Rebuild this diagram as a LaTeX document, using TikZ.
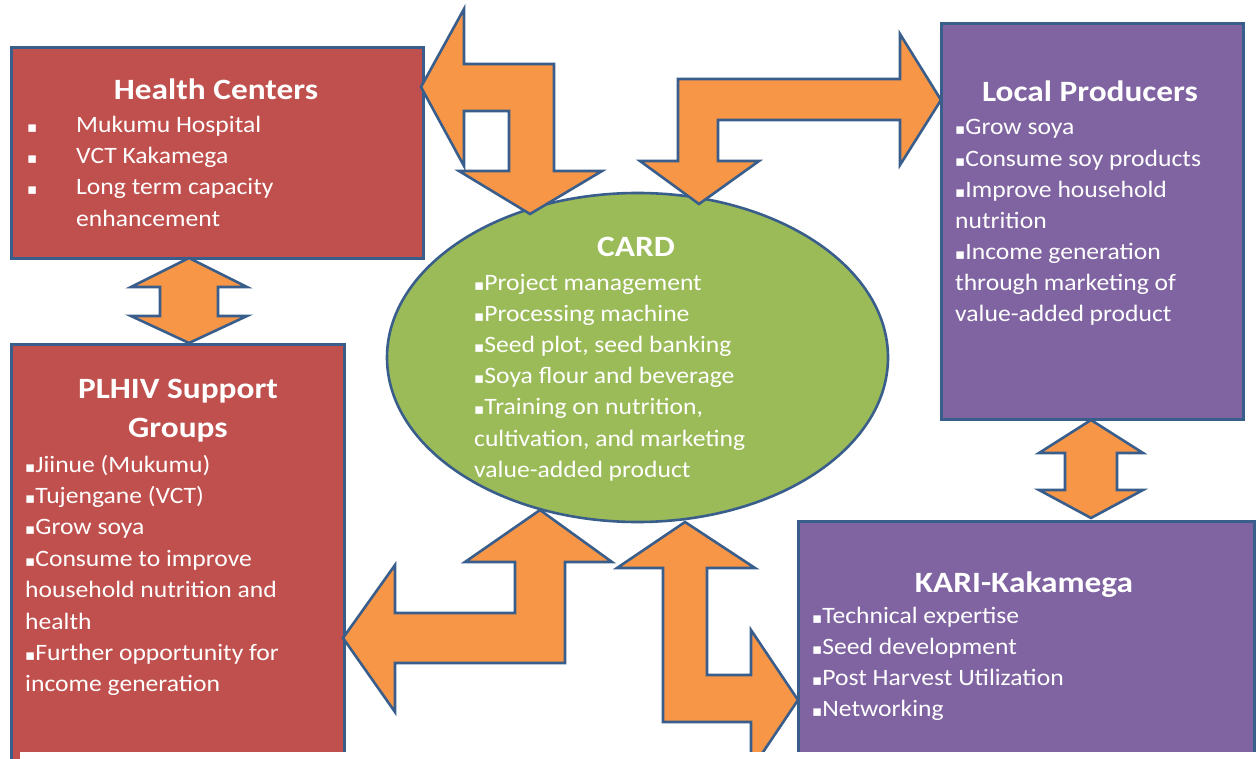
\documentclass[tikz,border=0pt]{standalone}
\usepackage{fontspec}
\setmainfont{Carlito}[FakeStretch=1.09]
\newfontfamily\headfont{Carlito}[FakeStretch=1.13]
\newfontfamily\symfont{DejaVu Sans}
\usetikzlibrary{shapes.geometric}

\definecolor{boxred}{HTML}{C0504D}
\definecolor{boxpurple}{HTML}{8064A2}
\definecolor{boxgreen}{HTML}{9BBB59}
\definecolor{arroworange}{HTML}{F79646}
\definecolor{edgeblue}{HTML}{3A5E8C}

% small square bullet
\newcommand\bul{{\symfont\fontsize{15}{15}\selectfont ▪}}

\tikzset{
  outline/.style={draw=edgeblue, line width=2.6pt, line join=miter},
  panel/.style={outline, rectangle, anchor=north west, inner sep=0pt},
  redbox/.style={panel, fill=boxred},
  purplebox/.style={panel, fill=boxpurple},
  blockarrow/.style={outline, fill=arroworange},
  title/.style={text=white, font=\headfont\bfseries\fontsize{29.5}{29.5}\selectfont, anchor=base, inner sep=0pt},
  txt/.style={text=white, font=\fontsize{23.5}{23.5}\selectfont, anchor=base west, inner sep=0pt},
}

\begin{document}
\begin{tikzpicture}[x=1pt, y=-1pt]
\useasboundingbox (0,0) rectangle (1257,759);
\fill[white] (0,0) rectangle (1257,759);

% panels
\node[redbox, minimum width=412pt, minimum height=211pt] (hc) at (10,46) {};
\node[redbox, minimum width=333pt, minimum height=440pt] (plhiv) at (10,343) {};
\node[purplebox, minimum width=302pt, minimum height=396pt] (lp) at (940,22) {};
\node[purplebox, minimum width=456pt, minimum height=260pt] (kari) at (797,520) {};
\node[outline, ellipse, fill=boxgreen, minimum width=501pt, minimum height=329pt, inner sep=0pt] (card) at (637.5,357.5) {};

% two-headed vertical arrows between stacked panels
\draw[blockarrow] (189,258) -- (247,287) -- (218,287) -- (218,316) -- (247,316) -- (189,343)
  -- (131,316) -- (160,316) -- (160,287) -- (131,287) -- cycle;
\draw[blockarrow] (1091,420) -- (1143,453) -- (1117,453) -- (1117,490) -- (1143,490) -- (1091,518)
  -- (1039,490) -- (1065,490) -- (1065,453) -- (1039,453) -- cycle;

% bent two-headed arrows linking CARD with the panels
\draw[blockarrow] (421,87) -- (464,9) -- (464,64) -- (554,64) -- (554,171) -- (602,171) -- (530,214)
  -- (459,171) -- (509,171) -- (509,111) -- (464,111) -- (464,166) -- cycle;
\draw[blockarrow] (941,100) -- (900,165) -- (900,120) -- (718,120) -- (718,161) -- (759,161) -- (699,204)
  -- (640,161) -- (678,161) -- (678,79) -- (900,79) -- (900,34) -- cycle;
\draw[blockarrow] (540,510) -- (612,562) -- (565,562) -- (565,663) -- (395,663) -- (395,712) -- (343,638)
  -- (395,565) -- (395,613) -- (515,613) -- (515,562) -- (465,562) -- cycle;
\draw[blockarrow] (685,522) -- (755,568) -- (707,568) -- (707,675) -- (751,675) -- (751,630) -- (798,700)
  -- (751,770) -- (751,722) -- (663,722) -- (663,568) -- (617,568) -- cycle;

% Health Centers
\node[title] (hc-t) at (216,100) {Health Centers};
\foreach \t [count=\i from 0] in {Mukumu Hospital, VCT Kakamega, Long term capacity}
  \node[txt] (hc-\i) at (27,{133+31*\i}) {\makebox[49pt][l]{\bul}\t};
\node[txt] (hc-3) at (76,226) {enhancement};

% PLHIV Support Groups
\node[title] (plhiv-t1) at (178,398) {PLHIV Support};
\node[title] (plhiv-t2) at (178,437) {Groups};
\foreach \t [count=\i from 0] in {\bul Jiinue (Mukumu), \bul Tujengane (VCT), \bul Grow soya,
    \bul Consume to improve, household nutrition and, health, \bul Further opportunity for, income generation}
  \node[txt] (plhiv-\i) at (25,{472+31.4*\i}) {\t};

% Local Producers
\node[title] (lp-t) at (1090,102) {Local Producers};
\foreach \t [count=\i from 0] in {\bul Grow soya, \bul Consume soy products, \bul Improve household,
    nutrition, \bul Income generation, through marketing of, value-added product}
  \node[txt] (lp-\i) at (955,{135+31.1*\i}) {\t};

% CARD
\node[title] (card-t) at (636,257) {CARD};
\foreach \t [count=\i from 0] in {\bul Project management, \bul Processing machine, {\bul Seed plot, seed banking},
    \bul Soya flour and beverage, {\bul Training on nutrition,}, {cultivation, and marketing}, value-added product}
  \node[txt] (card-\i) at (474,{290+31.2*\i}) {\t};

% KARI-Kakamega
\node[title] (kari-t) at (1024,592) {KARI-Kakamega};
\foreach \t [count=\i from 0] in {\bul Technical expertise, \bul Seed development, \bul Post Harvest Utilization, \bul Networking}
  \node[txt] (kari-\i) at (812,{623+31.3*\i}) {\t};

% blank strip along the lower edge
\fill[white] (20,752) rectangle (1257,780);
\end{tikzpicture}
\end{document}
